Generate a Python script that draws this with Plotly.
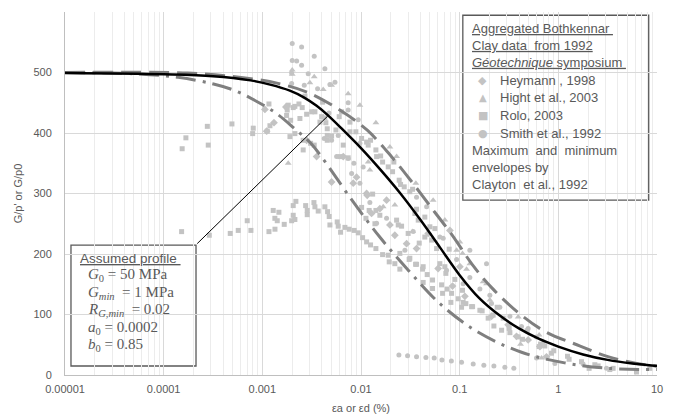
import math
import plotly.graph_objects as go

# ---------------- data ----------------
heymann_x = [0.001062, 0.001312, 0.001107, 0.001734, 0.002812, 0.003548, 0.005035, 0.006607, 0.009016, 0.0114,
             0.00834, 0.0128, 0.01963, 0.02203, 0.02897, 0.03656, 0.07962, 0.1005, 0.01156, 0.01553,
             0.01816, 0.04797, 0.06053, 0.08472, 0.113, 0.2104, 0.3097, 0.3767, 0.4943, 0.6501, 0.7586]
heymann_y = [439, 417, 403, 443, 388, 361, 319, 361, 327, 300,
             317, 267, 248, 231, 217, 209, 239, 179, 297, 275,
             289, 234, 176, 147, 130, 97, 83, 64, 58, 47, 30]

hight_x = [0.002009, 0.002009, 0.003034, 0.003357, 0.00414, 0.005035, 0.007413, 0.00975, 0.01416, 0.01963, 0.02295,
           0.001829, 0.01183, 0.01679, 0.02203, 0.05383, 0.07079, 0.0931, 0.1268, 0.1871, 0.0123,
           0.03597, 0.03334, 0.1005, 0.1069, 0.1175, 0.173, 0.2023, 0.3917, 0.414, 0.6394, 0.6761]
hight_y = [504, 497, 483, 493, 472, 479, 465, 446, 417, 377, 361,
           350, 352, 278, 281, 289, 256, 206, 184, 151, 339,
           317, 237, 220, 201, 175, 154, 124, 96, 51, 66, 28]

rolo_x = [1.52e-4, 2.90e-4, 4.73e-4, 5.70e-4, 7.66e-4, 7.03e-4, 1.167e-3, 1.343e-3, 1.289e-3, 1.472e-3,
          1.34e-3, 1.416e-3, 1.667e-3, 1.982e-3, 2.056e-3, 2.138e-3, 2.056e-3, 2.188e-3, 2.748e-3, 2.851e-3,
          2.851e-3, 3.334e-3, 3.412e-3, 3.684e-3, 4.305e-3, 4.588e-3, 4.762e-3, 4.842e-3, 5.741e-3, 5.875e-3,
          6.211e-3, 6.871e-3, 7.586e-3, 8.531e-3, 9.376e-3,
          0.01038, 0.0114, 0.0125, 0.01416, 0.01656, 0.01888, 0.01932, 0.02203, 0.02477, 0.03076,
          0.03573, 0.04207, 0.04688, 0.04266, 0.0531, 0.0531, 0.06561, 0.0747, 0.08279, 0.06714,
          0.08147, 0.09661, 0.1084, 0.1045, 0.1321, 0.169,
          0.0783, 0.07244, 0.08933, 0.1069, 0.1156, 0.1352, 0.1603, 0.1945, 0.2183, 0.2399,
          0.2223, 0.2661, 0.2761, 0.3177, 0.3228, 0.3917, 0.4335, 0.4831, 0.6394, 0.6607,
          0.7295, 0.8531, 0.8995, 1.239, 1.286, 1.717, 2.051, 2.344, 2.531, 3.325,
          3.591, 6.194, 8.45,
          0.001167, 8.09e-4, 7.98e-4, 0.001194, 0.001829, 0.002056, 0.002138, 0.00235, 0.002536, 0.001787,
          0.001762, 0.001936, 0.002404, 0.002812, 0.003162, 0.003412, 0.002703, 0.004083, 0.00399, 0.003837,
          0.004305, 0.004406, 0.004548, 0.004548, 0.005572, 0.005035, 0.004548, 0.006012, 0.006353, 0.007727,
          0.001905, 0.002138, 0.002595, 0.003085, 0.003357, 0.002595, 0.006607, 0.007727, 0.008872, 0.01014,
          0.0114, 0.0125, 0.01183, 0.01416, 0.00611, 0.007413,
          0.01439, 0.01581, 0.01656, 0.01888, 0.02089, 0.02153, 0.02438, 0.02518, 0.02742, 0.03126,
          0.03334, 0.01312, 0.01014, 0.0121, 0.01416, 0.01122, 0.01553, 0.01384, 0.02295, 0.02578,
          0.02384, 0.03656, 0.03516, 0.03802, 0.04436, 0.04989, 0.05608, 0.03006, 0.04436, 0.0389,
          0.05188, 0.05834, 0.06295, 0.07079, 0.02477, 0.03126, 0.03656, 0.04266,
          1.54e-4, 1.68e-4, 2.83e-4, 2.77e-4, 4.92e-4, 0.001122]
rolo_y = [237, 231, 234, 239, 239, 255, 237, 241, 272, 269,
          259, 255, 249, 255, 264, 257, 280, 287, 280, 272,
          265, 285, 278, 271, 278, 270, 262, 248, 253, 246,
          236, 244, 241, 239, 235,
          227, 220, 215, 209, 199, 198, 187, 184, 175, 191,
          183, 175, 166, 153, 157, 143, 149, 142, 135, 135,
          120, 126, 120, 112, 113, 106,
          208, 168, 158, 140, 118, 113, 107, 94, 99, 112,
          81, 74, 94, 77, 70, 63, 59, 73, 47, 51,
          48, 36, 40, 31, 26, 22, 11, 17, 15, 9,
          11, 5, 11,
          448, 408, 399, 412, 446, 442, 444, 448, 442, 438,
          429, 421, 424, 431, 435, 435, 461, 451, 427, 418,
          425, 417, 407, 396, 405, 395, 388, 427, 435, 418,
          394, 399, 388, 383, 380, 372, 380, 402, 402, 391,
          385, 388, 380, 372, 361, 359,
          361, 362, 352, 344, 336, 352, 322, 315, 311, 303,
          307, 299, 277, 272, 272, 259, 264, 250, 256, 246,
          248, 274, 267, 256, 261, 245, 242, 234, 228, 218,
          223, 209, 184, 179, 201, 193, 183, 179,
          374, 392, 380, 411, 415, 403]

smith_x = [0.002009, 0.0025, 0.002009, 0.002228, 0.0025, 0.003357, 0.001982, 0.001982, 0.002917, 0.004305,
           0.00266, 0.004842, 0.005445, 0.003631, 0.007413, 0.009376, 0.004732, 0.00975, 0.005875, 0.005035,
           0.004238, 0.007413, 0.005662, 0.007413, 0.008472, 0.008035, 0.01052, 0.0123, 0.00975, 0.01439,
           0.01816, 0.0338, 0.02786, 0.04624, 0.03656, 0.06295, 0.1084, 0.1268, 0.1871, 0.2104,
           0.06808, 0.0931, 0.07362, 0.1268, 0.1603, 0.2023, 0.2553, 0.3228, 0.4236, 0.4943,
           0.6012, 0.7015, 0.6012, 0.9226, 3.076, 1.782,
           0.02421, 0.02965, 0.03656, 0.0455, 0.05521, 0.06607, 0.0824, 0.1045, 0.1371, 0.1758,
           0.2223, 0.2871, 0.354]
smith_y = [548, 542, 520, 519, 512, 527, 499, 482, 498, 506,
           479, 480, 484, 473, 450, 422, 433, 383, 396, 388,
           391, 438, 361, 358, 350, 333, 344, 285, 317, 251,
           259, 237, 206, 278, 294, 228, 151, 206, 184, 118,
           226, 191, 173, 161, 142, 132, 112, 97, 80, 77,
           63, 51, 28, 19, 11, 18,
           33, 32, 30, 29, 28, 25, 23, 21, 18, 16,
           15, 13, 11]

# Assumed profile (solid black curve)
profile_x = [0.00001, 0.0001, 0.000316, 0.00076, 0.0012, 0.0019, 0.00263, 0.00355, 0.00457, 0.00631,
             0.01, 0.0158, 0.0251, 0.0398, 0.0631, 0.1, 0.158, 0.251, 0.398, 0.631,
             1, 1.78, 3.16, 5.62, 10]
profile_y = [499, 497, 494, 487, 480, 470, 459, 445, 430, 408,
             375, 339, 300, 257, 211, 165, 127, 99, 77, 60,
             47, 34, 25, 19, 15]

# Clayton et al. (1992) envelopes
upper_x = [0.00001, 0.000176, 0.00067, 0.00144, 0.0029, 0.0061, 0.0115, 0.0206, 0.0328, 0.056,
           0.085, 0.135, 0.212, 0.4, 0.75, 1.54, 3.24, 7.5, 10]
upper_y = [500, 499, 491, 482, 467, 438, 405, 360, 319, 269,
           230, 182, 144, 102, 71, 50, 30, 17, 15]
lower_x = [0.00001, 0.00005, 0.00014, 0.00032, 0.00053, 0.00086, 0.00137, 0.0021, 0.0031, 0.0043,
           0.0081, 0.0155, 0.0306, 0.065, 0.153, 0.417, 1.16, 3.24, 10]
lower_y = [500, 498, 492, 481, 470, 453, 433, 408, 383, 353,
           289, 228, 172, 116, 71, 38, 20, 11, 9]

x_tickvals = [0.00001, 0.0001, 0.001, 0.01, 0.1, 1, 10]
x_ticktext = ["0.00001", "0.0001", "0.001", "0.01", "0.1", "1", "10"]

legend_names = ["Heymann , 1998", "Hight et al., 2003", "Rolo, 2003", "Smith et al., 1992"]
legend_glyphs = ["◆", "▲", "■", "●"]

# ---------------- figure ----------------
FONT = "Liberation Sans, Arial, sans-serif"
MATH = "Liberation Serif, Times New Roman, serif"
TXT = "#595959"
PT = "#c3c3c3"

fig = go.Figure()
series = [
    (legend_names[0], heymann_x, heymann_y, "diamond", 6),
    (legend_names[1], hight_x, hight_y, "triangle-up", 6),
    (legend_names[2], rolo_x, rolo_y, "square", 5),
    (legend_names[3], smith_x, smith_y, "circle", 5),
]
for name, xs, ys, sym, sz in series:
    fig.add_trace(go.Scatter(x=xs, y=ys, mode="markers", name=name, showlegend=False,
                             marker=dict(symbol=sym, size=sz, color=PT, line=dict(width=0))))

fig.add_trace(go.Scatter(x=upper_x, y=upper_y, mode="lines", showlegend=False, name="Maximum envelope",
                         line=dict(color="#7f7f7f", width=3, dash="20px,8px", shape="spline")))
fig.add_trace(go.Scatter(x=lower_x, y=lower_y, mode="lines", showlegend=False, name="Minimum envelope",
                         line=dict(color="#7f7f7f", width=3, dash="20px,7px,3px,7px", shape="spline")))
fig.add_trace(go.Scatter(x=profile_x, y=profile_y, mode="lines", showlegend=False, name="Assumed profile",
                         line=dict(color="black", width=2.5, shape="spline")))

minor_vals = [m * 10 ** e for e in range(-5, 1) for m in range(2, 10)]

fig.update_xaxes(type="log", range=[-5, 1], tickvals=x_tickvals, ticktext=x_ticktext, automargin=False,
                 showgrid=True, gridcolor="#d9d9d9", gridwidth=1,
                 minor=dict(tickvals=minor_vals, showgrid=True, gridcolor="#ececec", ticks=""),
                 showline=True, linecolor="#bfbfbf", linewidth=1, ticks="", zeroline=False,
                 tickfont=dict(family=FONT, size=11, color=TXT), ticklabelstandoff=4,
                 title=dict(text="εa or εd (%)", font=dict(family=FONT, size=11, color=TXT), standoff=10))
fig.update_yaxes(range=[0, 600], dtick=100, showgrid=True, gridcolor="#d9d9d9", gridwidth=1, automargin=False,
                 showline=True, linecolor="#bfbfbf", linewidth=1, ticks="", zeroline=False,
                 tickfont=dict(family=FONT, size=11, color=TXT), ticklabelstandoff=10,
                 title=dict(text="G/p' or G/p0", font=dict(family=FONT, size=11, color=TXT), standoff=8))

shapes = [
    dict(type="rect", xref="paper", yref="paper", x0=0.672, x1=0.986, y0=0.482, y1=0.991,
         line=dict(color="#595959", width=1.3), fillcolor="white", layer="between"),
    dict(type="rect", xref="paper", yref="paper", x0=0.0101, x1=0.2213, y0=0.0248, y1=0.3578,
         line=dict(color="#595959", width=1.3), fillcolor="white", layer="between"),
]


def ann(text, x, y, size=13, family=FONT, color=TXT, xanchor="left"):
    return dict(x=x, y=y, xref="paper", yref="paper", xanchor=xanchor, yanchor="middle", align="left",
                text=text, showarrow=False, font=dict(family=family, size=size, color=color))


annotations = [
    # callout line from the profile box to the curve
    dict(x=math.log10(0.0046), y=428, xref="x", yref="y", text="", showarrow=True,
         arrowhead=0, arrowwidth=1, arrowcolor="black", ax=-132, ay=129, standoff=0, startstandoff=0),
    ann("<u>Aggregated Bothkennar </u><br><u>Clay data  from 1992</u><br>"
        "<u><i>Géotechnique</i> symposium </u>", 0.684, 0.9064),
    ann("Maximum  and  minimum<br>envelopes by<br>Clayton  et al., 1992", 0.684, 0.5706),
    ann("<u>Assumed profile </u>", 0.022, 0.321, size=13.5),
]
row_y = [0.810, 0.7633, 0.7157, 0.6653]
glyph_sizes = [11, 10, 11, 11]
for name, g, yy, gs in zip(legend_names, legend_glyphs, row_y, glyph_sizes):
    annotations.append(ann(g, 0.706, yy, size=gs, family="DejaVu Sans", color=PT, xanchor="center"))
    annotations.append(ann(name, 0.7314, yy))

math_lines = [
    ("<i>G</i><sub>0</sub> = 50 MPa", 0.275),
    ("<i>G</i><sub><i>min</i></sub>  = 1 MPa", 0.225),
    ("<i>R</i><sub><i>G,min</i></sub>  = 0.02", 0.179),
    ("<i>a</i><sub>0</sub> = 0.0002", 0.1285),
    ("<i>b</i><sub>0</sub> = 0.85", 0.0826),
]
for t, yy in math_lines:
    annotations.append(ann(t, 0.0355, yy, size=15, family=MATH))

# The page body adds an 8 px margin, so the figure is sized to sit inside the window.
fig.update_layout(
    width=666, height=410,
    margin=dict(l=57, r=17, t=4, b=43),
    paper_bgcolor="white", plot_bgcolor="white",
    font=dict(family=FONT, size=11, color=TXT),
    showlegend=False,
    shapes=shapes, annotations=annotations,
)

fig.write_html("out.html")
